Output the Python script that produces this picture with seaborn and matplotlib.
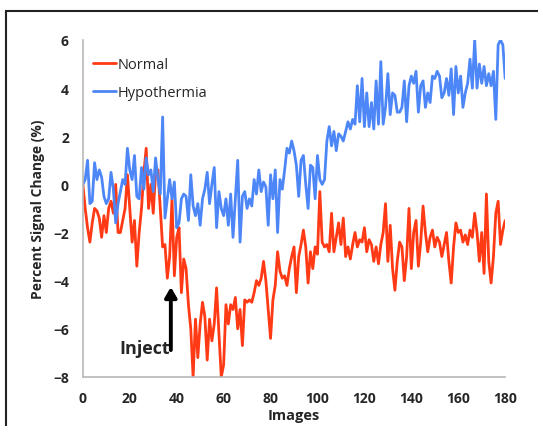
import numpy as np
import pandas as pd
import matplotlib
matplotlib.use("Agg")
import matplotlib.pyplot as plt
from matplotlib.patches import Rectangle
import seaborn as sns

# data (one value per image, 0..180)
normal = [
    0.0, -1.0, -1.8, -2.4, -1.6, -1.0, -1.1, -1.4, -2.2, -1.3,
    -2.0, -1.0, -0.7, -1.2, 0.0, -2.0, -2.0, -1.5, -1.0, 0.4,
    -1.0, -2.4, -1.5, -3.4, -2.0, -1.0, 0.5, 1.5, -1.0, 0.0,
    -1.2, 0.5, 0.6, -1.0, -2.6, -2.5, -3.9, -3.0, -0.6, -3.8,
    -2.2, -1.8, -4.5, -3.1, -3.5, -5.0, -6.0, -8.0, -5.6, -7.2,
    -5.8, -4.9, -5.5, -7.3, -5.6, -6.5, -5.8, -4.3, -6.2, -8.0,
    -7.5, -5.0, -5.8, -5.0, -5.2, -4.7, -6.0, -5.2, -6.7, -4.8,
    -4.9, -4.8, -4.9, -4.5, -4.0, -4.2, -3.9, -3.2, -4.0, -5.2,
    -6.4, -4.8, -4.2, -2.8, -3.6, -3.9, -3.8, -4.2, -3.5, -3.0,
    -2.6, -4.5, -3.0, -2.5, -1.9, -2.6, -4.1, -2.8, -3.5, -2.6,
    -2.9, -0.3, -2.4, -2.6, -2.5, -2.8, -1.2, -2.8, -2.2, -1.6,
    -2.5, -1.4, -3.0, -2.6, -3.1, -2.5, -2.0, -2.6, -2.3, -2.4,
    -1.8, -2.8, -2.3, -2.5, -3.2, -2.6, -3.3, -2.5, -2.0, -0.8,
    -3.2, -1.7, -3.5, -4.4, -3.2, -2.4, -2.6, -4.0, -3.0, -1.0,
    -3.5, -2.0, -1.5, -3.4, -2.4, -0.9, -2.0, -2.8, -2.2, -1.9,
    -2.6, -2.2, -2.4, -3.0, -2.5, -2.0, -3.2, -4.1, -2.6, -1.6,
    -2.0, -1.9, -2.4, -2.1, -2.5, -1.9, -2.2, -1.2, -2.0, -3.2,
    -2.0, -3.7, -0.4, -3.2, -4.1, -3.0, -1.2, -0.7, -2.5, -1.9,
    -1.5,
]
hypothermia = [
    0.0, 0.2, 1.0, -0.8, -0.7, 0.9, 0.2, 0.6, 0.3, -0.5,
    -0.8, -0.6, 0.5, -0.2, -1.6, -0.8, -0.3, 0.2, 0.0, 1.5,
    0.6, 0.2, 1.2, -0.5, -0.6, 0.7, -0.2, 1.1, 0.4, 0.6,
    -0.3, 1.1, 0.2, -0.4, 2.8, -1.4, -0.6, 0.2, -0.6, 0.1,
    -1.8, -1.6, -0.6, -0.4, -0.5, -1.5, 0.4, -0.9, -1.3, -0.8,
    -1.7, -0.6, -0.2, 0.5, -0.8, 0.0, 0.7, -1.8, -0.3, -1.0,
    -1.3, -0.6, -1.7, -0.4, -2.2, -0.6, 1.0, -2.4, -0.5, -0.3,
    -1.0, -0.6, -0.9, 0.2, -0.4, 0.6, -0.3, 0.1, -0.1, -1.7,
    0.4, -0.6, 0.6, -2.0, 0.2, -0.2, 0.6, 1.5, 1.3, 1.8,
    1.4, 0.8, -0.5, 1.0, 1.2, 0.0, -1.0, 0.8, 0.7, -0.6,
    1.2, 0.2, 0.0, 0.2, 1.8, 2.4, 1.6, 2.2, 1.4, 2.1,
    2.0, 1.8, 2.2, 2.6, 2.3, 2.7, 2.5, 4.1, 2.6, 4.4,
    2.4, 3.8, 2.4, 3.4, 2.3, 4.3, 2.5, 5.1, 2.5, 3.2,
    4.6, 2.9, 3.8, 3.7, 3.0, 3.0, 3.2, 4.3, 2.6, 4.1,
    4.5, 4.2, 4.7, 3.0, 4.1, 4.3, 3.2, 3.8, 3.4, 4.5,
    4.4, 4.7, 4.5, 3.6, 3.8, 4.4, 3.7, 4.8, 2.9, 4.9,
    3.8, 4.5, 3.2, 3.8, 4.2, 5.2, 4.0, 6.0, 4.0, 5.0,
    4.2, 4.9, 4.1, 4.6, 4.1, 4.7, 2.7, 5.8, 6.0, 5.8,
    4.4,
]
images = list(range(len(normal)))

df = pd.DataFrame({
    "Images": images * 2,
    "value": normal + hypothermia,
    "group": ["Normal"] * len(normal) + ["Hypothermia"] * len(hypothermia),
})

sns.set_style("white")
plt.rcParams["font.family"] = ["Open Sans", "DejaVu Sans"]

fig = plt.figure(figsize=(5.38, 4.27), dpi=100)
ax = fig.add_axes([0.154, 0.115, 0.785, 0.789])

sns.lineplot(data=df, x="Images", y="value", hue="group",
             palette={"Normal": "#ff3a14", "Hypothermia": "#4d86f7"},
             linewidth=2.0, ax=ax)

ax.set_xlim(0, 180)
ax.set_ylim(-8, 6)
ax.set_xticks(range(0, 181, 20))
ax.set_yticks(range(-8, 7, 2))
for s in ["top", "right"]:
    ax.spines[s].set_visible(False)
for s in ["left", "bottom"]:
    ax.spines[s].set_color("#b8b8b8")
    ax.spines[s].set_linewidth(1.2)
ax.tick_params(axis="both", direction="out", length=4, width=1.2,
               color="#b8b8b8", labelsize=10, pad=6)
for lab in ax.get_xticklabels() + ax.get_yticklabels():
    lab.set_fontweight("bold")

ax.set_xlabel("Images", fontsize=10.5, fontweight="bold", labelpad=2)
ax.set_ylabel("Percent Signal Change (%)", fontsize=10, fontweight="bold", labelpad=6)

leg = ax.legend(loc="upper left", bbox_to_anchor=(0.0, 0.98), frameon=False,
                fontsize=10.5, handlelength=1.6, handletextpad=0.1,
                labelspacing=0.9, borderaxespad=0.3)
for line in leg.get_lines():
    line.set_linewidth(2.0)

# injection marker
ax.annotate("", xy=(37.5, -4.15), xytext=(37.5, -7.0),
            arrowprops=dict(arrowstyle="-|>,head_width=0.35,head_length=0.6",
                            color="black", lw=2.8))
ax.text(37.3, -6.8, "Inject", ha="right", va="center",
        fontsize=13, fontweight="bold")

# outer frame
fig.patches.append(Rectangle((6 / 538, -0.2), 1.2, 1.2 - 12 / 427,
                             transform=fig.transFigure, fill=False,
                             edgecolor="#222222", linewidth=1.5))

fig.savefig("out.png", dpi=100)
